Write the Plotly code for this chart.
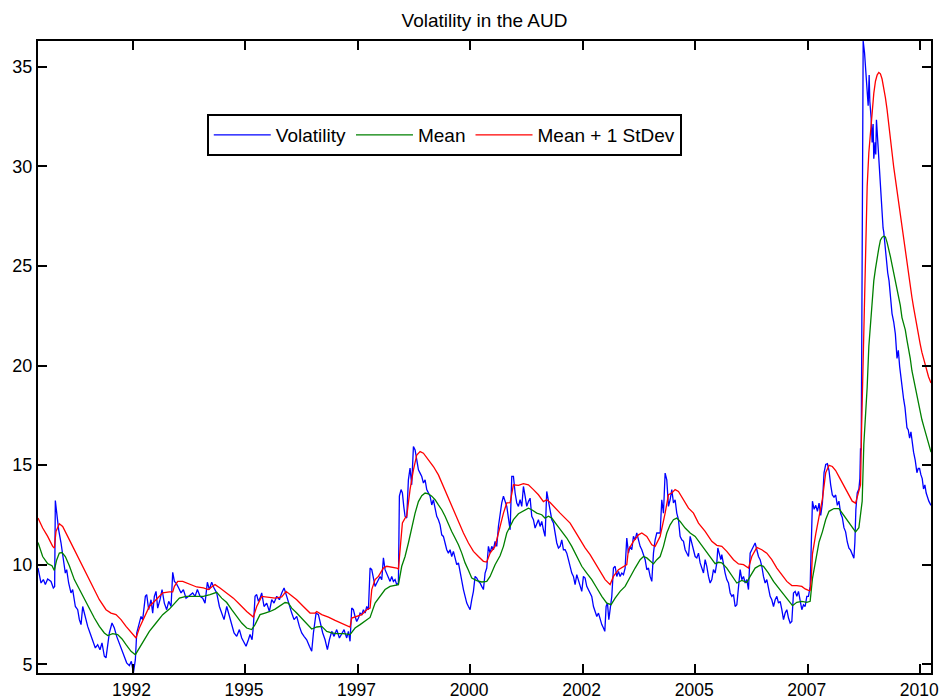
import plotly.graph_objects as go

# ---------------- data (decimal years) ----------------
vol_points = [
    (1990.400, 9.83), (1990.467, 9.08), (1990.519, 9.25), (1990.563, 9.00), (1990.615, 9.28),
    (1990.689, 9.16), (1990.741, 8.83), (1990.770, 8.90), (1990.785, 13.22), (1990.815, 12.60),
    (1990.859, 11.75), (1990.911, 11.10), (1990.948, 10.60), (1991.007, 9.58), (1991.037, 9.75),
    (1991.081, 9.08), (1991.133, 8.58), (1991.170, 8.75), (1991.230, 7.90), (1991.282, 7.74),
    (1991.319, 7.24), (1991.356, 6.99), (1991.393, 7.90), (1991.452, 7.32), (1991.504, 6.90),
    (1991.556, 6.57), (1991.615, 6.23), (1991.674, 5.82), (1991.726, 5.98), (1991.778, 5.73),
    (1991.822, 6.07), (1991.874, 5.40), (1991.911, 5.32), (1991.948, 5.90), (1991.985, 6.57),
    (1992.044, 7.07), (1992.096, 6.82), (1992.148, 6.40), (1992.207, 6.07), (1992.267, 5.73),
    (1992.319, 5.40), (1992.370, 5.07), (1992.430, 4.93), (1992.474, 5.15), (1992.519, 4.56),
    (1992.563, 5.23), (1992.593, 6.57), (1992.637, 6.90), (1992.689, 7.40), (1992.726, 7.24),
    (1992.785, 8.41), (1992.815, 8.50), (1992.859, 7.74), (1992.911, 8.24), (1992.948, 7.57),
    (1992.985, 8.41), (1993.022, 8.66), (1993.059, 7.82), (1993.111, 8.24), (1993.156, 8.75),
    (1993.207, 8.07), (1993.259, 7.74), (1993.304, 8.16), (1993.356, 7.90), (1993.393, 9.62),
    (1993.430, 9.16), (1993.467, 9.08), (1993.526, 8.83), (1993.578, 8.58), (1993.630, 8.75),
    (1993.689, 8.32), (1993.748, 8.41), (1993.837, 8.58), (1993.889, 8.41), (1993.941, 8.75),
    (1994.000, 8.41), (1994.059, 8.32), (1994.111, 8.07), (1994.163, 9.12), (1994.207, 8.75),
    (1994.259, 9.12), (1994.311, 8.83), (1994.370, 8.58), (1994.430, 7.90), (1994.481, 7.57),
    (1994.533, 7.24), (1994.593, 7.90), (1994.652, 7.40), (1994.704, 6.99), (1994.756, 6.57),
    (1994.815, 6.40), (1994.874, 6.74), (1994.926, 6.32), (1994.978, 6.07), (1995.022, 5.90),
    (1995.074, 6.23), (1995.111, 6.49), (1995.156, 6.23), (1995.185, 6.90), (1995.222, 8.41),
    (1995.259, 8.50), (1995.296, 8.16), (1995.333, 8.32), (1995.370, 8.58), (1995.422, 7.90),
    (1995.481, 8.07), (1995.541, 7.65), (1995.593, 8.24), (1995.644, 8.07), (1995.704, 8.41),
    (1995.763, 8.24), (1995.815, 8.58), (1995.867, 8.83), (1995.926, 8.41), (1995.985, 7.90),
    (1996.037, 7.57), (1996.089, 7.24), (1996.148, 7.40), (1996.207, 6.90), (1996.259, 6.57),
    (1996.311, 6.40), (1996.370, 6.23), (1996.430, 5.90), (1996.481, 5.65), (1996.519, 6.57),
    (1996.578, 7.57), (1996.630, 7.49), (1996.681, 6.90), (1996.726, 6.57), (1996.778, 6.23),
    (1996.830, 5.73), (1996.874, 6.23), (1996.926, 6.65), (1996.978, 6.40), (1997.037, 6.74),
    (1997.096, 6.32), (1997.148, 6.57), (1997.200, 6.74), (1997.222, 6.57), (1997.259, 6.32),
    (1997.296, 6.65), (1997.333, 6.15), (1997.370, 7.82), (1997.407, 7.74), (1997.444, 7.40),
    (1997.481, 7.15), (1997.519, 7.32), (1997.556, 7.57), (1997.593, 7.49), (1997.630, 7.74),
    (1997.667, 7.57), (1997.704, 7.90), (1997.741, 7.74), (1997.778, 9.83), (1997.815, 9.75),
    (1997.852, 9.25), (1997.889, 8.91), (1997.926, 9.08), (1997.963, 9.25), (1998.000, 9.41),
    (1998.037, 9.25), (1998.074, 10.34), (1998.111, 9.75), (1998.148, 9.58), (1998.185, 9.33),
    (1998.222, 9.16), (1998.259, 9.41), (1998.296, 9.16), (1998.333, 9.25), (1998.370, 9.00),
    (1998.407, 9.08), (1998.429, 13.44), (1998.466, 13.77), (1998.496, 13.60), (1998.526, 12.93),
    (1998.555, 12.43), (1998.592, 12.34), (1998.629, 14.26), (1998.666, 14.85), (1998.703, 14.01),
    (1998.741, 15.93), (1998.778, 15.76), (1998.815, 15.26), (1998.852, 14.76), (1998.889, 14.60),
    (1998.926, 14.43), (1998.963, 14.10), (1999.000, 14.26), (1999.037, 13.77), (1999.074, 13.60),
    (1999.111, 13.44), (1999.148, 13.00), (1999.185, 13.26), (1999.222, 12.84), (1999.259, 12.43),
    (1999.296, 12.26), (1999.333, 12.00), (1999.370, 11.50), (1999.407, 11.42), (1999.444, 11.09),
    (1999.481, 10.75), (1999.518, 10.58), (1999.555, 10.75), (1999.592, 10.41), (1999.629, 10.67),
    (1999.666, 10.34), (1999.703, 10.00), (1999.741, 10.09), (1999.778, 9.58), (1999.815, 9.25),
    (1999.852, 8.75), (1999.889, 8.41), (1999.926, 8.07), (1999.963, 7.90), (2000.000, 7.74),
    (2000.037, 8.24), (2000.074, 8.66), (2000.111, 9.41), (2000.148, 9.33), (2000.185, 9.16),
    (2000.222, 9.08), (2000.259, 8.91), (2000.296, 8.75), (2000.333, 9.58), (2000.370, 9.83),
    (2000.407, 10.92), (2000.444, 10.58), (2000.481, 10.92), (2000.518, 10.75), (2000.555, 11.17),
    (2000.592, 10.92), (2000.629, 11.92), (2000.666, 12.59), (2000.703, 13.10), (2000.741, 13.44),
    (2000.778, 13.17), (2000.815, 12.93), (2000.852, 12.34), (2000.889, 11.75), (2000.926, 14.43),
    (2000.963, 14.43), (2001.000, 13.60), (2001.037, 13.10), (2001.074, 12.93), (2001.111, 13.26),
    (2001.148, 12.93), (2001.185, 13.93), (2001.222, 13.44), (2001.259, 12.93), (2001.296, 13.17),
    (2001.333, 13.34), (2001.370, 12.43), (2001.407, 12.26), (2001.444, 11.84), (2001.481, 12.09),
    (2001.518, 12.26), (2001.555, 11.92), (2001.592, 12.17), (2001.629, 11.75), (2001.666, 11.42),
    (2001.703, 13.68), (2001.741, 13.17), (2001.778, 12.59), (2001.815, 12.26), (2001.852, 12.09),
    (2001.889, 11.59), (2001.926, 11.09), (2001.963, 10.84), (2002.000, 10.92), (2002.037, 11.25),
    (2002.074, 10.75), (2002.111, 10.75), (2002.148, 10.58), (2002.185, 10.25), (2002.222, 9.92),
    (2002.259, 9.58), (2002.296, 9.41), (2002.333, 9.00), (2002.370, 9.50), (2002.407, 9.25),
    (2002.444, 8.91), (2002.481, 8.66), (2002.518, 9.41), (2002.555, 9.33), (2002.592, 8.91),
    (2002.629, 8.75), (2002.666, 8.58), (2002.703, 8.41), (2002.741, 7.90), (2002.778, 7.65),
    (2002.815, 7.40), (2002.852, 7.57), (2002.889, 7.24), (2002.926, 6.99), (2002.963, 6.82),
    (2002.993, 6.65), (2003.022, 7.90), (2003.052, 8.07), (2003.082, 7.24), (2003.111, 7.90),
    (2003.148, 8.41), (2003.185, 9.83), (2003.222, 9.92), (2003.259, 9.41), (2003.296, 9.66),
    (2003.333, 9.41), (2003.370, 9.58), (2003.407, 9.50), (2003.444, 9.83), (2003.481, 11.34),
    (2003.518, 10.58), (2003.555, 10.92), (2003.592, 10.75), (2003.629, 11.42), (2003.666, 11.25),
    (2003.703, 11.59), (2003.741, 11.25), (2003.778, 10.92), (2003.815, 10.75), (2003.852, 10.50),
    (2003.889, 10.25), (2003.926, 9.75), (2003.963, 9.83), (2004.000, 9.41), (2004.037, 9.16),
    (2004.074, 10.58), (2004.111, 11.25), (2004.148, 11.59), (2004.222, 11.59), (2004.259, 13.26),
    (2004.296, 12.59), (2004.333, 14.60), (2004.370, 14.26), (2004.407, 12.93), (2004.444, 13.26),
    (2004.481, 13.77), (2004.518, 13.10), (2004.555, 13.26), (2004.592, 12.59), (2004.629, 12.26),
    (2004.666, 11.42), (2004.703, 11.25), (2004.741, 11.17), (2004.778, 10.75), (2004.815, 10.58),
    (2004.852, 10.41), (2004.889, 11.42), (2004.926, 11.09), (2004.963, 10.75), (2005.000, 10.41),
    (2005.037, 10.34), (2005.074, 10.58), (2005.111, 10.09), (2005.148, 9.83), (2005.185, 9.58),
    (2005.222, 10.25), (2005.259, 9.92), (2005.296, 9.41), (2005.333, 9.08), (2005.370, 9.25),
    (2005.407, 9.75), (2005.444, 9.58), (2005.481, 10.09), (2005.504, 10.84), (2005.533, 10.58),
    (2005.570, 10.25), (2005.592, 10.50), (2005.629, 9.92), (2005.666, 9.58), (2005.703, 9.25),
    (2005.741, 9.08), (2005.778, 8.58), (2005.815, 8.41), (2005.852, 8.50), (2005.889, 7.90),
    (2005.926, 7.99), (2005.963, 8.91), (2006.000, 9.75), (2006.037, 9.25), (2006.074, 9.41),
    (2006.111, 9.08), (2006.148, 9.25), (2006.185, 8.75), (2006.222, 10.58), (2006.259, 10.75),
    (2006.296, 10.92), (2006.333, 11.09), (2006.370, 10.75), (2006.407, 10.41), (2006.444, 10.25),
    (2006.481, 9.92), (2006.518, 9.41), (2006.555, 9.08), (2006.592, 9.25), (2006.629, 8.75),
    (2006.666, 8.41), (2006.703, 8.24), (2006.741, 7.90), (2006.778, 8.24), (2006.815, 8.41),
    (2006.852, 8.07), (2006.889, 8.16), (2006.926, 7.74), (2006.963, 7.24), (2007.000, 7.57),
    (2007.037, 7.74), (2007.074, 7.32), (2007.111, 7.07), (2007.148, 7.15), (2007.185, 8.58),
    (2007.222, 8.66), (2007.259, 8.41), (2007.296, 8.66), (2007.333, 8.24), (2007.370, 7.74),
    (2007.407, 7.99), (2007.444, 7.90), (2007.481, 8.41), (2007.518, 8.41), (2007.555, 8.91),
    (2007.606, 13.19), (2007.643, 12.78), (2007.680, 12.98), (2007.717, 12.68), (2007.753, 13.09),
    (2007.790, 12.47), (2007.827, 13.09), (2007.864, 14.62), (2007.901, 15.03), (2007.938, 15.07),
    (2007.974, 14.73), (2008.011, 14.01), (2008.048, 13.50), (2008.085, 13.39), (2008.122, 13.50),
    (2008.159, 12.98), (2008.195, 13.19), (2008.232, 12.58), (2008.269, 12.37), (2008.306, 11.86),
    (2008.343, 11.65), (2008.380, 11.14), (2008.417, 10.83), (2008.453, 10.73), (2008.490, 10.53),
    (2008.527, 10.32), (2008.549, 11.14), (2008.571, 12.78), (2008.601, 13.60), (2008.638, 13.80),
    (2008.660, 14.32), (2008.674, 15.85), (2008.689, 15.75), (2008.704, 22.20), (2008.719, 30.39),
    (2008.733, 36.30), (2008.763, 35.72), (2008.792, 34.90), (2008.822, 33.67), (2008.844, 33.05),
    (2008.866, 34.59), (2008.881, 33.26), (2008.910, 32.44), (2008.932, 31.21), (2008.954, 32.13),
    (2008.969, 30.39), (2008.999, 31.21), (2009.013, 30.60), (2009.028, 32.34), (2009.057, 31.21),
    (2009.087, 30.39), (2009.116, 29.16), (2009.146, 27.93), (2009.175, 26.91), (2009.190, 26.71),
    (2009.227, 25.89), (2009.249, 25.07), (2009.278, 24.66), (2009.308, 24.25), (2009.337, 23.43),
    (2009.374, 22.61), (2009.411, 22.20), (2009.448, 21.59), (2009.485, 20.36), (2009.514, 20.77),
    (2009.544, 19.95), (2009.573, 19.33), (2009.603, 18.72), (2009.632, 18.31), (2009.662, 17.90),
    (2009.684, 17.49), (2009.706, 16.88), (2009.735, 16.77), (2009.765, 16.36), (2009.794, 16.67),
    (2009.824, 16.06), (2009.853, 15.65), (2009.890, 15.24), (2009.927, 14.62), (2009.956, 14.83),
    (2009.986, 14.83), (2010.015, 14.52), (2010.045, 14.32), (2010.074, 13.80), (2010.104, 14.01),
    (2010.133, 13.60), (2010.162, 13.39), (2010.192, 13.19), (2010.240, 12.98),
]

mean_points = [
    (1990.400, 11.12), (1990.504, 10.41), (1990.615, 10.05), (1990.711, 9.95), (1990.763, 9.71),
    (1990.815, 10.24), (1990.874, 10.58), (1990.933, 10.61), (1991.007, 10.41), (1991.096, 9.95),
    (1991.207, 9.25), (1991.319, 8.75), (1991.430, 8.24), (1991.541, 7.74), (1991.652, 7.32),
    (1991.763, 6.90), (1991.874, 6.57), (1991.948, 6.44), (1992.059, 6.54), (1992.170, 6.49),
    (1992.267, 6.27), (1992.356, 5.98), (1992.467, 5.65), (1992.563, 5.48), (1992.652, 5.82),
    (1992.763, 6.23), (1992.874, 6.65), (1993.022, 7.07), (1993.170, 7.49), (1993.319, 7.77),
    (1993.430, 8.07), (1993.541, 8.32), (1993.689, 8.41), (1993.926, 8.41), (1994.074, 8.41),
    (1994.222, 8.50), (1994.370, 8.61), (1994.481, 8.32), (1994.593, 8.10), (1994.704, 7.74),
    (1994.815, 7.40), (1994.926, 7.07), (1995.037, 6.82), (1995.148, 6.74), (1995.222, 6.99),
    (1995.333, 7.49), (1995.444, 7.57), (1995.556, 7.65), (1995.667, 7.77), (1995.778, 7.94),
    (1995.889, 8.10), (1995.963, 8.07), (1996.037, 7.82), (1996.148, 7.57), (1996.259, 7.32),
    (1996.370, 7.07), (1996.481, 6.77), (1996.593, 6.87), (1996.704, 6.90), (1996.815, 6.65),
    (1996.926, 6.57), (1997.037, 6.54), (1997.185, 6.54), (1997.333, 6.49), (1997.444, 6.82),
    (1997.556, 6.99), (1997.667, 7.15), (1997.778, 7.35), (1997.889, 8.07), (1998.000, 8.41),
    (1998.111, 8.75), (1998.222, 8.91), (1998.333, 8.96), (1998.407, 9.00), (1998.481, 9.92),
    (1998.555, 10.41), (1998.629, 11.09), (1998.703, 11.92), (1998.778, 12.59), (1998.852, 13.17),
    (1998.926, 13.46), (1999.000, 13.60), (1999.074, 13.56), (1999.148, 13.44), (1999.222, 13.26),
    (1999.296, 13.00), (1999.370, 12.76), (1999.444, 12.43), (1999.518, 12.00), (1999.592, 11.67),
    (1999.666, 11.34), (1999.741, 11.00), (1999.815, 10.58), (1999.889, 10.09), (1999.963, 9.72),
    (2000.037, 9.33), (2000.148, 9.20), (2000.259, 9.13), (2000.370, 9.16), (2000.444, 9.41),
    (2000.555, 10.00), (2000.666, 10.45), (2000.741, 10.92), (2000.815, 11.59), (2000.889, 11.92),
    (2000.963, 12.26), (2001.074, 12.56), (2001.185, 12.72), (2001.296, 12.84), (2001.370, 12.76),
    (2001.481, 12.59), (2001.592, 12.51), (2001.666, 12.34), (2001.741, 12.43), (2001.815, 12.34),
    (2001.926, 12.00), (2002.037, 11.67), (2002.148, 11.34), (2002.259, 10.92), (2002.370, 10.41),
    (2002.481, 9.92), (2002.592, 9.58), (2002.703, 9.25), (2002.815, 8.83), (2002.926, 8.41),
    (2003.037, 8.07), (2003.133, 7.99), (2003.222, 8.32), (2003.333, 8.66), (2003.444, 8.91),
    (2003.555, 9.41), (2003.666, 9.83), (2003.778, 10.25), (2003.852, 10.41), (2003.926, 10.34),
    (2004.000, 10.17), (2004.074, 10.04), (2004.148, 10.25), (2004.222, 10.41), (2004.296, 10.92),
    (2004.370, 11.59), (2004.444, 12.00), (2004.518, 12.26), (2004.592, 12.34), (2004.666, 12.17),
    (2004.778, 11.84), (2004.889, 11.59), (2005.000, 11.42), (2005.111, 11.09), (2005.222, 10.75),
    (2005.333, 10.41), (2005.444, 10.05), (2005.518, 10.12), (2005.592, 10.09), (2005.703, 9.83),
    (2005.815, 9.45), (2005.926, 9.08), (2006.037, 9.21), (2006.148, 9.11), (2006.222, 9.41),
    (2006.333, 9.83), (2006.444, 9.97), (2006.518, 9.92), (2006.629, 9.58), (2006.741, 9.16),
    (2006.852, 8.83), (2006.963, 8.50), (2007.074, 8.16), (2007.163, 7.94), (2007.259, 8.11),
    (2007.370, 8.16), (2007.481, 8.11), (2007.555, 8.16), (2007.606, 9.30), (2007.680, 10.32),
    (2007.753, 11.14), (2007.827, 11.65), (2007.901, 12.27), (2007.974, 12.68), (2008.085, 12.82),
    (2008.195, 12.82), (2008.269, 12.58), (2008.380, 12.27), (2008.490, 11.86), (2008.564, 11.65),
    (2008.638, 11.86), (2008.711, 13.19), (2008.748, 16.06), (2008.785, 17.40), (2008.822, 18.92),
    (2008.859, 20.97), (2008.895, 22.20), (2008.932, 23.22), (2008.969, 24.25), (2009.006, 24.86),
    (2009.043, 25.48), (2009.080, 25.89), (2009.116, 26.30), (2009.153, 26.44), (2009.190, 26.50),
    (2009.227, 26.46), (2009.264, 26.19), (2009.300, 25.89), (2009.337, 25.48), (2009.374, 25.07),
    (2009.411, 24.66), (2009.448, 24.25), (2009.485, 23.84), (2009.522, 23.43), (2009.558, 23.02),
    (2009.595, 22.41), (2009.632, 22.10), (2009.669, 21.79), (2009.706, 21.28), (2009.743, 20.87),
    (2009.779, 20.36), (2009.816, 19.74), (2009.853, 19.33), (2009.890, 18.92), (2009.927, 18.51),
    (2009.964, 18.00), (2010.000, 17.59), (2010.037, 17.29), (2010.074, 16.98), (2010.111, 16.67),
    (2010.148, 16.36), (2010.185, 16.06), (2010.240, 15.65),
]

mean_sd_points = [
    (1990.400, 12.34), (1990.504, 11.84), (1990.615, 11.42), (1990.726, 10.92), (1990.763, 10.84),
    (1990.800, 11.67), (1990.874, 12.05), (1990.948, 11.92), (1991.059, 11.42), (1991.170, 10.92),
    (1991.319, 10.25), (1991.467, 9.58), (1991.615, 8.91), (1991.763, 8.24), (1991.911, 7.74),
    (1992.022, 7.57), (1992.133, 7.49), (1992.244, 7.24), (1992.356, 6.90), (1992.504, 6.49),
    (1992.578, 6.32), (1992.652, 6.82), (1992.763, 7.32), (1992.874, 7.90), (1993.022, 8.24),
    (1993.170, 8.58), (1993.319, 8.63), (1993.393, 8.63), (1993.430, 8.91), (1993.504, 9.16),
    (1993.615, 9.16), (1993.763, 9.03), (1993.926, 8.88), (1994.074, 8.83), (1994.185, 8.75),
    (1994.259, 8.88), (1994.333, 9.00), (1994.444, 8.83), (1994.593, 8.58), (1994.741, 8.32),
    (1994.889, 7.99), (1995.037, 7.65), (1995.185, 7.37), (1995.259, 7.90), (1995.370, 8.41),
    (1995.519, 8.38), (1995.667, 8.32), (1995.815, 8.38), (1995.911, 8.66), (1996.000, 8.50),
    (1996.148, 8.24), (1996.296, 7.90), (1996.444, 7.57), (1996.556, 7.57), (1996.593, 7.65),
    (1996.704, 7.49), (1996.852, 7.37), (1997.000, 7.20), (1997.148, 7.07), (1997.222, 6.99),
    (1997.333, 6.87), (1997.370, 7.32), (1997.481, 7.40), (1997.593, 7.49), (1997.704, 7.74),
    (1997.778, 7.82), (1997.815, 8.75), (1997.889, 9.25), (1997.963, 9.41), (1998.074, 9.83),
    (1998.148, 9.92), (1998.259, 9.88), (1998.370, 9.83), (1998.407, 9.78), (1998.444, 10.92),
    (1998.496, 12.09), (1998.555, 12.34), (1998.592, 12.43), (1998.666, 13.77), (1998.741, 14.76),
    (1998.815, 15.51), (1998.889, 15.68), (1998.963, 15.60), (1999.074, 15.26), (1999.185, 14.93),
    (1999.296, 14.51), (1999.407, 13.93), (1999.518, 13.26), (1999.629, 12.76), (1999.741, 12.17),
    (1999.852, 11.59), (1999.963, 11.09), (2000.074, 10.67), (2000.185, 10.41), (2000.296, 10.17),
    (2000.370, 10.13), (2000.444, 10.58), (2000.555, 10.92), (2000.666, 11.92), (2000.741, 12.59),
    (2000.815, 13.10), (2000.889, 13.12), (2000.963, 14.01), (2001.074, 13.98), (2001.185, 14.07),
    (2001.296, 14.01), (2001.407, 13.77), (2001.518, 13.51), (2001.629, 13.17), (2001.703, 13.26),
    (2001.778, 13.12), (2001.889, 12.84), (2002.000, 12.59), (2002.111, 12.34), (2002.222, 12.09),
    (2002.333, 11.67), (2002.444, 11.25), (2002.555, 10.84), (2002.666, 10.50), (2002.778, 10.09),
    (2002.889, 9.66), (2003.000, 9.25), (2003.111, 9.00), (2003.185, 9.41), (2003.296, 9.75),
    (2003.407, 9.88), (2003.481, 10.00), (2003.518, 10.75), (2003.629, 11.17), (2003.741, 11.50),
    (2003.815, 11.59), (2003.926, 11.42), (2004.037, 11.00), (2004.111, 10.92), (2004.222, 11.42),
    (2004.333, 12.59), (2004.407, 13.51), (2004.481, 13.60), (2004.555, 13.77), (2004.629, 13.68),
    (2004.741, 13.26), (2004.852, 12.84), (2004.963, 12.59), (2005.074, 12.09), (2005.222, 11.67),
    (2005.370, 11.17), (2005.481, 10.97), (2005.592, 10.92), (2005.703, 10.67), (2005.852, 10.25),
    (2005.963, 10.04), (2006.074, 10.00), (2006.185, 9.83), (2006.259, 10.41), (2006.370, 10.87),
    (2006.481, 10.75), (2006.592, 10.58), (2006.703, 10.25), (2006.815, 9.83), (2006.926, 9.50),
    (2007.037, 9.16), (2007.148, 8.95), (2007.259, 8.95), (2007.370, 8.91), (2007.444, 8.78),
    (2007.518, 8.71), (2007.555, 8.70), (2007.580, 9.30), (2007.606, 10.53), (2007.680, 11.55),
    (2007.753, 12.37), (2007.827, 13.29), (2007.901, 14.62), (2007.974, 14.99), (2008.048, 14.93),
    (2008.122, 14.73), (2008.195, 14.42), (2008.269, 14.11), (2008.343, 13.80), (2008.417, 13.50),
    (2008.490, 13.19), (2008.564, 13.09), (2008.601, 13.39), (2008.638, 13.80), (2008.674, 14.01),
    (2008.700, 17.00), (2008.733, 20.00), (2008.763, 23.50), (2008.792, 26.80), (2008.822, 29.00),
    (2008.859, 30.70), (2008.895, 31.83), (2008.932, 32.85), (2008.969, 33.67), (2009.006, 34.28),
    (2009.043, 34.59), (2009.080, 34.72), (2009.116, 34.65), (2009.153, 34.39), (2009.190, 33.98),
    (2009.227, 33.46), (2009.264, 32.85), (2009.300, 32.03), (2009.337, 31.42), (2009.374, 30.70),
    (2009.411, 29.98), (2009.448, 29.37), (2009.485, 28.75), (2009.522, 28.14), (2009.558, 27.52),
    (2009.595, 26.91), (2009.632, 26.30), (2009.669, 25.68), (2009.706, 25.17), (2009.743, 24.66),
    (2009.779, 24.04), (2009.816, 23.43), (2009.853, 22.92), (2009.890, 22.41), (2009.927, 22.00),
    (2009.964, 21.59), (2010.000, 21.08), (2010.037, 20.67), (2010.074, 20.36), (2010.111, 20.05),
    (2010.148, 19.74), (2010.185, 19.44), (2010.240, 19.13),
]

x_tick_vals = [1992.5, 1995.0, 1997.5, 2000.0, 2002.5, 2005.0, 2007.5, 2010.0]
x_tick_text = ["1992", "1995", "1997", "2000", "2002", "2005", "2007", "2010"]
y_tick_vals = [5, 10, 15, 20, 25, 30, 35]
x_range = [1990.40, 2010.24]
y_range = [4.56, 36.30]

series = [
    ("Volatility", vol_points, "#0000FF"),
    ("Mean", mean_points, "#008000"),
    ("Mean + 1 StDev", mean_sd_points, "#FF0000"),
]

FONT = "Liberation Sans, Arial, Helvetica, sans-serif"
FIG_W, FIG_H = 940, 700

fig = go.Figure()
for name, pts, color in series:
    xs = [p[0] for p in pts]
    ys = [p[1] for p in pts]
    fig.add_trace(go.Scatter(x=xs, y=ys, mode="lines", name=name,
                             line=dict(color=color, width=1.3)))

axis_common = dict(
    showline=True, linecolor="black", linewidth=2, mirror="ticks",
    ticks="inside", ticklen=9, tickwidth=1.5, tickcolor="black",
    showgrid=False, zeroline=False, automargin=False,
    ticklabeloverflow="allow",
)

fig.update_layout(
    width=FIG_W, height=FIG_H,
    paper_bgcolor="white", plot_bgcolor="white",
    margin=dict(l=38, r=9, t=41, b=27, autoexpand=False),
    font=dict(family=FONT, size=18, color="black"),
    title=dict(text="Volatility in the AUD", x=0.5, xref="paper",
               y=1 - 20 / FIG_H, yref="container", yanchor="middle", xanchor="center",
               font=dict(family=FONT, size=19, color="black")),
    showlegend=True,
    legend=dict(orientation="h", x=0.189, y=0.8845, xanchor="left", yanchor="top",
                bordercolor="black", borderwidth=2, bgcolor="white",
                font=dict(family=FONT, size=19, color="black"),
                itemwidth=57, traceorder="normal"),
)
fig.update_xaxes(range=x_range, tickvals=x_tick_vals, ticktext=x_tick_text,
                 tickfont=dict(family=FONT, size=17.5, color="black"),
                 ticklabelshift=-1, **axis_common)
fig.update_yaxes(range=y_range, tickvals=y_tick_vals,
                 tickfont=dict(family=FONT, size=18, color="black"), **axis_common)

# remove the default 8 px page margin so the 940x700 figure fills the window exactly;
# hide the hover toolbar so it never shows in the picture
fig.write_html("out.html", config={"displayModeBar": False},
               post_script="document.body.style.margin='0';")
